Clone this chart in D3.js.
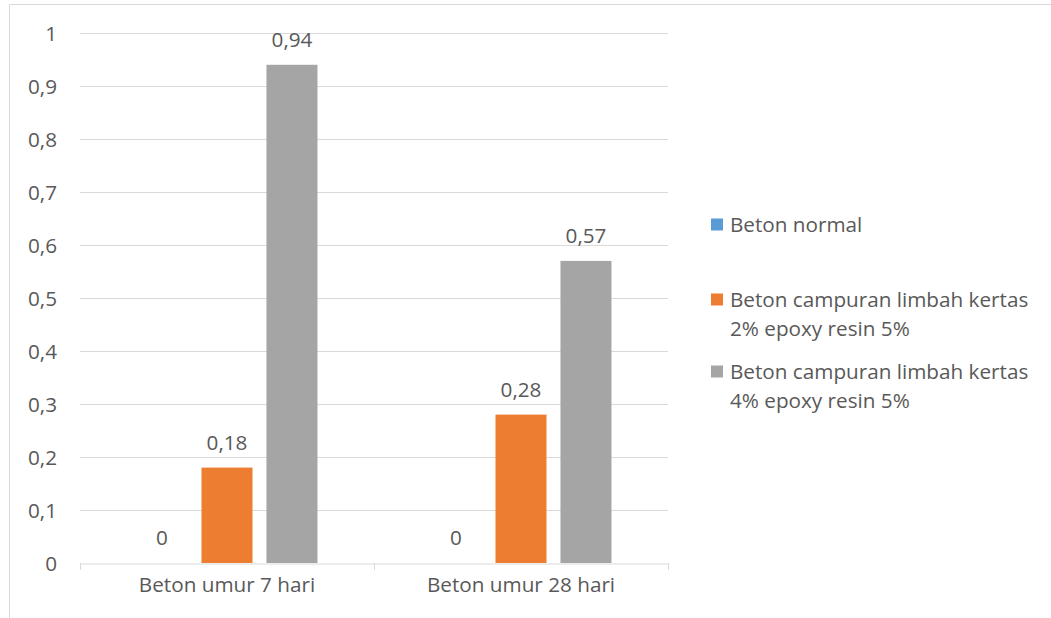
<!DOCTYPE html>
<html>
<head>
<meta charset="utf-8">
<script src="https://cdn.jsdelivr.net/npm/d3@7"></script>
<style>
  html, body { margin: 0; padding: 0; background: #fff; }
  svg text { font-family: "Open Sans", "Noto Sans", sans-serif; fill: #595959; }
</style>
</head>
<body>
<svg id="chart" width="1051" height="618"></svg>
<script>
// Chart data
const categories = ["Beton umur 7 hari", "Beton umur 28 hari"];
const seriesNames = [
  ["Beton normal"],
  ["Beton campuran limbah kertas", "2% epoxy resin 5%"],
  ["Beton campuran limbah kertas", "4% epoxy resin 5%"]
];
const seriesColors = ["#5b9bd5", "#ed7d31", "#a5a5a5"];
const betonNormal = [0, 0];
const limbah2 = [0.18, 0.28];
const limbah4 = [0.94, 0.57];
const yTicks = [0, 0.1, 0.2, 0.3, 0.4, 0.5, 0.6, 0.7, 0.8, 0.9, 1];
const seriesValues = [betonNormal, limbah2, limbah4];

const svg = d3.select("#chart");
const fmt = v => String(v).replace(".", ",");
const FONT = '"Open Sans", "Noto Sans", sans-serif';
const FS = 20.7;

// Outer frame (top and left edges)
svg.append("line").attr("x1", 9.5).attr("x2", 1051).attr("y1", 4.5).attr("y2", 4.5)
  .attr("stroke", "#d9d9d9").attr("stroke-width", 1);
svg.append("line").attr("x1", 9.5).attr("x2", 9.5).attr("y1", 4.5).attr("y2", 618)
  .attr("stroke", "#d9d9d9").attr("stroke-width", 1);

const plot = { left: 80, right: 668, top: 33, bottom: 563 };

const y = d3.scaleLinear().domain([0, 1]).range([plot.bottom, plot.top]);
const x0 = d3.scaleBand().domain(categories).range([plot.left, plot.right]).padding(0);
const x1 = d3.scaleBand().domain(d3.range(seriesValues.length))
  .range([0, x0.bandwidth()]).paddingInner(0.215).paddingOuter(0.87);

// Gridlines
svg.append("g")
  .selectAll("line").data(yTicks.filter(t => t > 0)).join("line")
  .attr("x1", plot.left).attr("x2", plot.right)
  .attr("y1", d => Math.round(y(d)) + 0.5).attr("y2", d => Math.round(y(d)) + 0.5)
  .attr("stroke", "#d9d9d9").attr("stroke-width", 1);

// Y axis labels
const yAxis = d3.axisLeft(y).tickValues(yTicks).tickFormat(fmt).tickSize(0).tickPadding(0);
const gy = svg.append("g").attr("transform", `translate(${plot.left - 23},0)`).call(yAxis);
gy.select(".domain").remove();
gy.selectAll("text").attr("font-size", FS).style("font-family", FONT)
  .attr("fill", "#595959").attr("dy", "0.36em");

// Bars
const groups = svg.append("g").selectAll("g").data(categories).join("g")
  .attr("transform", d => `translate(${x0(d)},0)`);

groups.selectAll("rect")
  .data((c, ci) => seriesValues.map((s, si) => ({ si, v: s[ci] })))
  .join("rect")
  .attr("x", d => x1(d.si))
  .attr("width", x1.bandwidth())
  .attr("y", d => y(d.v))
  .attr("height", d => y(0) - y(d.v))
  .attr("fill", d => seriesColors[d.si]);

// Value labels
groups.selectAll("text.val")
  .data((c, ci) => seriesValues.map((s, si) => ({ si, v: s[ci] })))
  .join("text")
  .attr("class", "val")
  .attr("x", d => x1(d.si) + x1.bandwidth() / 2)
  .attr("y", d => y(d.v) - 18)
  .attr("text-anchor", "middle")
  .attr("font-size", FS)
  .text(d => fmt(d.v));

// X axis
const xAxis = d3.axisBottom(x0).tickSize(0).tickPadding(0);
const gx = svg.append("g").attr("transform", `translate(0,${plot.bottom + 0.5})`).call(xAxis);
gx.select(".domain").attr("stroke", "#d9d9d9");
gx.selectAll("text").attr("font-size", FS).style("font-family", FONT)
  .attr("fill", "#595959").attr("dy", null).attr("y", 28.5);
// Category separators
svg.append("g").selectAll("line")
  .data([plot.left, ...categories.map(c => x0(c) + x0.bandwidth())])
  .join("line")
  .attr("x1", d => d + 0.5).attr("x2", d => d + 0.5)
  .attr("y1", plot.bottom).attr("y2", plot.bottom + 7)
  .attr("stroke", "#d9d9d9");

// Legend
const legendY = [225, 300, 372];
const legend = svg.append("g").selectAll("g").data(seriesNames).join("g")
  .attr("transform", (d, i) => `translate(711,${legendY[i]})`);
legend.append("rect").attr("x", 0).attr("y", -6.5).attr("width", 12).attr("height", 12)
  .attr("fill", (d, i) => seriesColors[i]);
legend.append("text").attr("font-size", FS)
  .selectAll("tspan").data(d => d).join("tspan")
  .attr("x", 19).attr("y", (d, j) => j * 29).attr("dy", "0.35em")
  .text(d => d);
</script>
</body>
</html>
